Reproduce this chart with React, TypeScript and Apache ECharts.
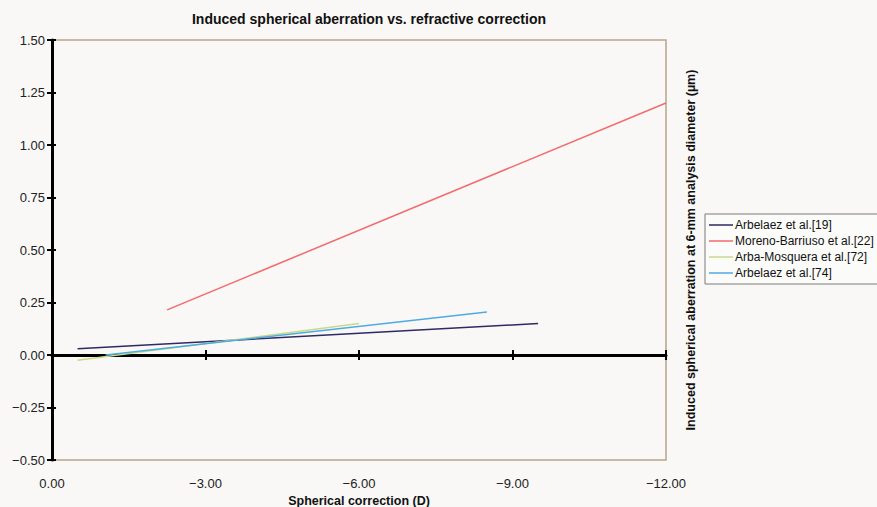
import React, { useEffect, useRef } from "react";
import * as echarts from "echarts";

// Spherical correction (D) endpoints and induced spherical aberration (µm)
const seriesNames = [
  "Arbelaez et al.[19]",
  "Moreno-Barriuso et al.[22]",
  "Arba-Mosquera et al.[72]",
  "Arbelaez et al.[74]",
];
const arbelaez19: [number, number][] = [[-0.5, 0.03], [-9.5, 0.15]];
const morenoBarriuso22: [number, number][] = [[-2.25, 0.215], [-12.0, 1.2]];
const arbaMosquera72: [number, number][] = [[-0.5, -0.025], [-6.0, 0.15]];
const arbelaez74: [number, number][] = [[-1.05, 0.0], [-8.5, 0.205]];
const seriesColors = ["#2e2a62", "#f26a6c", "#c8d98a", "#4eaae2"];

const fmt = (v: number) => (v < 0 ? "\u2212" + Math.abs(v).toFixed(2) : v.toFixed(2));

export default function App() {
  const ref = useRef<HTMLDivElement>(null);
  useEffect(() => {
    const chart = echarts.init(ref.current!, null, { renderer: "svg" });
    const font = "Liberation Sans, Arial, sans-serif";
    const dataSets = [arbelaez19, morenoBarriuso22, arbaMosquera72, arbelaez74];
    chart.setOption({
      animation: false,
      backgroundColor: "#f9f8f6",
      textStyle: { fontFamily: font },
      title: {
        text: "Induced spherical aberration vs. refractive correction",
        left: 364,
        textAlign: "center",
        top: 7,
        textStyle: { fontSize: 14, fontWeight: "bold", color: "#111", fontFamily: font },
      },
      grid: {
        left: 52,
        right: 211,
        top: 40,
        bottom: 47,
        outerBoundsMode: "none",
        containLabel: false,
        show: true,
        borderColor: "#b5a48f",
        borderWidth: 1.5,
        backgroundColor: "transparent",
      },
      legend: {
        orient: "vertical",
        left: 705,
        top: 214,
        icon: "rect",
        itemWidth: 24,
        itemHeight: 1.5,
        itemGap: 4,
        padding: [5, 4, 5, 4],
        borderColor: "#7a7a7a",
        borderWidth: 1,
        backgroundColor: "#fbfbfa",
        textStyle: { fontSize: 12, color: "#111", fontFamily: font, padding: [0, 0, 0, -3] },
        data: seriesNames,
      },
      xAxis: [
        {
          type: "value",
          min: -12,
          max: 0,
          interval: 3,
          inverse: true,
          position: "bottom",
          axisLine: { show: false, onZero: false },
          axisTick: { show: false },
          splitLine: { show: false },
          axisLabel: { formatter: fmt, fontSize: 13, color: "#222", margin: 17 },
          name: "Spherical correction (D)",
          nameLocation: "middle",
          nameGap: 34,
          nameTextStyle: { fontSize: 12.5, fontWeight: "bold", color: "#111" },
        },
        {
          type: "value",
          min: -12,
          max: 0,
          interval: 3,
          inverse: true,
          axisLine: { show: true, onZero: true, onZeroAxisIndex: 0, lineStyle: { color: "#000", width: 3 } },
          axisTick: { show: true, inside: false, length: 5, lineStyle: { color: "#000", width: 2 } },
          axisLabel: { show: false },
          splitLine: { show: false },
        },
        {
          type: "value",
          min: -12,
          max: 0,
          interval: 3,
          inverse: true,
          axisLine: { show: false, onZero: true, onZeroAxisIndex: 0 },
          axisTick: { show: true, inside: true, length: 5, lineStyle: { color: "#000", width: 2 } },
          axisLabel: { show: false },
          splitLine: { show: false },
        },
      ],
      yAxis: [
        {
          type: "value",
          min: -0.5,
          max: 1.5,
          interval: 0.25,
          position: "left",
          axisLine: { show: true, onZero: false, lineStyle: { color: "#000", width: 3 } },
          axisTick: { show: true, inside: false, length: 5, lineStyle: { color: "#000", width: 2 } },
          axisLabel: { formatter: fmt, fontSize: 13, color: "#222", margin: 7 },
          splitLine: { show: false },
        },
        {
          type: "value",
          min: -0.5,
          max: 1.5,
          interval: 0.25,
          position: "left",
          axisLine: { show: false, onZero: false },
          axisTick: { show: true, inside: true, length: 4, lineStyle: { color: "#000", width: 2 } },
          axisLabel: { show: false },
          splitLine: { show: false },
        },
        {
          type: "value",
          min: -0.5,
          max: 1.5,
          position: "right",
          axisLine: { show: false },
          axisTick: { show: false },
          axisLabel: { show: false },
          splitLine: { show: false },
          name: "Induced spherical aberration at 6-mm analysis diameter (µm)",
          nameLocation: "middle",
          nameRotate: 90,
          nameGap: 18,
          nameTextStyle: { fontSize: 12.5, fontWeight: "bold", color: "#111" },
        },
      ],
      series: dataSets.map((d, i) => ({
        name: seriesNames[i],
        type: "line",
        xAxisIndex: 0,
        yAxisIndex: 0,
        data: d,
        showSymbol: false,
        symbol: "none",
        lineStyle: { color: seriesColors[i], width: 1.5 },
        itemStyle: { color: seriesColors[i] },
        z: 3,
      })),
    });
    return () => chart.dispose();
  }, []);
  return <div ref={ref} style={{ width: 877, height: 507, position: "absolute", left: 0, top: 0 }} />;
}
